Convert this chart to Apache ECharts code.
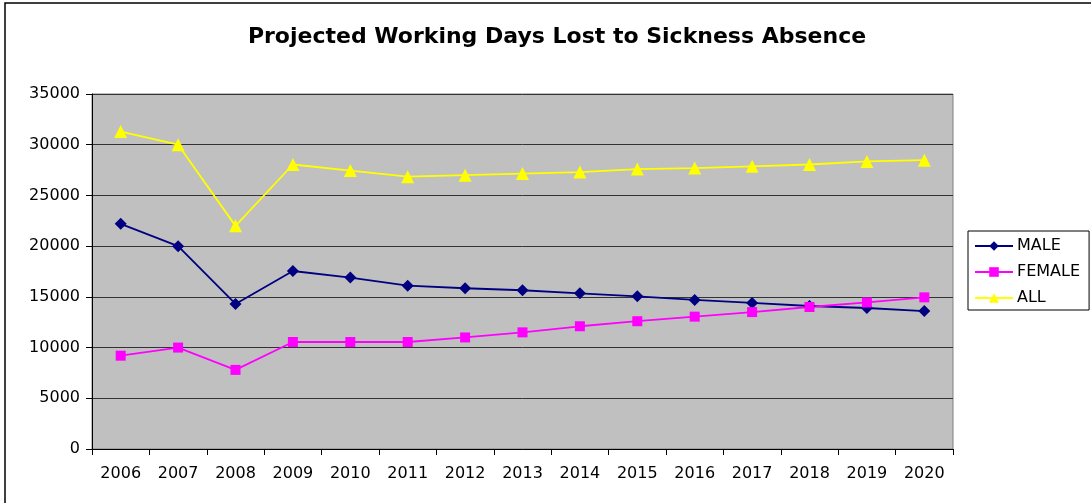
<!DOCTYPE html>
<html>
<head>
<meta charset="utf-8">
<script src="https://cdn.jsdelivr.net/npm/echarts@6/dist/echarts.min.js"></script>
<style>
  html, body { margin: 0; padding: 0; background: #fff; }
  #chart { width: 1091px; height: 503px; }
</style>
</head>
<body>
<div id="chart"></div>
<script>
const years = ['2006', '2007', '2008', '2009', '2010', '2011', '2012', '2013', '2014', '2015', '2016', '2017', '2018', '2019', '2020']
const male = [22200, 20000, 14300, 17550, 16900, 16100, 15850, 15650, 15350, 15050, 14700, 14400, 14100, 13900, 13600]
const female = [9200, 10000, 7800, 10550, 10550, 10550, 11000, 11500, 12100, 12600, 13050, 13500, 14000, 14450, 14950]
const all = [31300, 30000, 22000, 28050, 27450, 26850, 27000, 27150, 27300, 27600, 27700, 27870, 28050, 28350, 28480]

const chart = echarts.init(document.getElementById('chart'))
const font = 'DejaVu Sans, Verdana, sans-serif'

let option = {
  animation: false,
  backgroundColor: '#fff',
  textStyle: { fontFamily: font },
  graphic: [{
    type: 'rect',
    shape: { x: 5, y: 3, width: 1100, height: 520 },
    style: { fill: 'none', stroke: '#000', lineWidth: 1.5 }
  }],
  title: {
    text: 'Projected Working Days Lost to Sickness Absence',
    left: 552,
    textAlign: 'center',
    top: 21,
    textStyle: { fontSize: 22, fontWeight: 'bold', color: '#000', fontFamily: font }
  },
  legend: {
    orient: 'vertical',
    left: 968,
    top: 231,
    padding: [7, 9, 4, 6],
    itemGap: 10,
    itemWidth: 38,
    itemHeight: 12,
    borderColor: '#000',
    borderWidth: 1,
    textStyle: { fontSize: 16, color: '#000', fontFamily: font, padding: [0, 0, 0, -1] },
    data: ['MALE', 'FEMALE', 'ALL']
  },
  grid: {
    left: 92,
    right: 138,
    top: 94,
    bottom: 54,
    show: true,
    backgroundColor: '#c0c0c0',
    borderColor: '#808080',
    borderWidth: 1
  },
  xAxis: {
    type: 'category',
    data: years,
    boundaryGap: true,
    axisLine: { lineStyle: { color: '#000' } },
    axisTick: { show: true, length: 6, lineStyle: { color: '#000' } },
    axisLabel: { fontSize: 16, color: '#000', margin: 17 },
    splitLine: { show: false }
  },
  yAxis: {
    type: 'value',
    min: 0,
    max: 35000,
    interval: 5000,
    axisLine: { show: true, lineStyle: { color: '#000' } },
    axisTick: { show: true, length: 6, lineStyle: { color: '#000' } },
    axisLabel: { fontSize: 16, color: '#000', margin: 12, formatter: function (v) { return String(v) } },
    splitLine: { show: true, lineStyle: { color: '#333', width: 1 } }
  },
  series: [{
    name: 'MALE',
    type: 'line',
    color: '#000080',
    symbol: 'diamond',
    symbolSize: 12,
    lineStyle: { width: 1.8 },
    data: male
  },
  {
    name: 'FEMALE',
    type: 'line',
    color: '#ff00ff',
    symbol: 'rect',
    symbolSize: 10,
    lineStyle: { width: 1.8 },
    data: female
  },
  {
    name: 'ALL',
    type: 'line',
    color: '#ffff00',
    symbol: 'triangle',
    symbolSize: 13,
    lineStyle: { width: 1.8 },
    data: all
  }
  ]
}
chart.setOption(option)
window.addEventListener('resize', function () {
  chart.resize()
})
</script>
</body>
</html>
